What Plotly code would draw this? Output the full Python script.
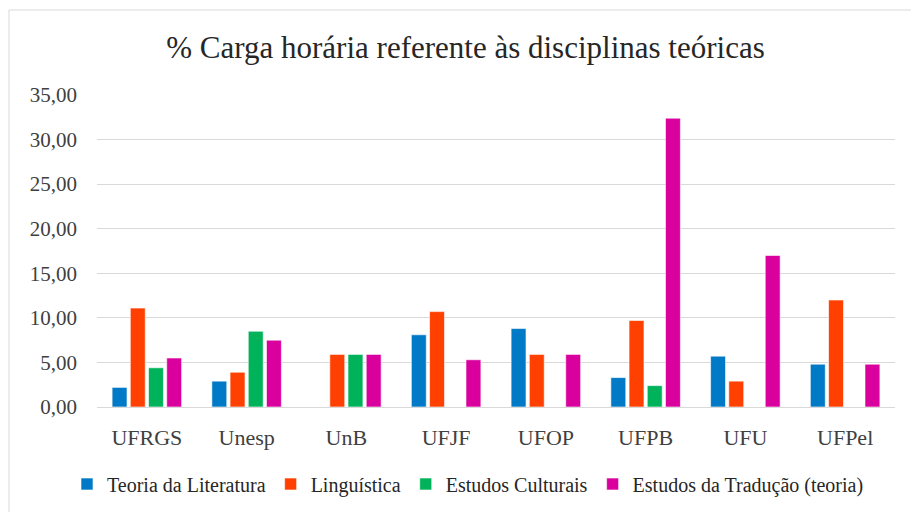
import plotly.graph_objects as go

categories = ["UFRGS", "Unesp", "UnB", "UFJF", "UFOP", "UFPB", "UFU", "UFPel"]
teoria_literatura = [2.2, 2.9, 0, 8.1, 8.8, 3.3, 5.7, 4.8]
linguistica = [11.1, 3.9, 5.9, 10.7, 5.9, 9.7, 2.9, 12.0]
estudos_culturais = [4.4, 8.5, 5.9, 0, 0, 2.4, 0, 0]
estudos_traducao = [5.5, 7.5, 5.9, 5.3, 5.9, 32.4, 17.0, 4.8]
series_names = ["Teoria da Literatura", "Linguística", "Estudos Culturais",
                "Estudos da Tradução (teoria)"]
y_ticks = [0, 5, 10, 15, 20, 25, 30, 35]

colors = ["#0079C6", "#FF4000", "#00B25A", "#D9009E"]
serif = "Liberation Serif, Times New Roman, serif"

fig = go.Figure()
for name, vals, col in zip(series_names,
                           [teoria_literatura, linguistica, estudos_culturais, estudos_traducao],
                           colors):
    fig.add_trace(go.Bar(x=categories, y=vals, name=name,
                         marker=dict(color=col, line=dict(color="white", width=0.6))))

L, R, T, B = 97, 16, 95, 105
W, H = 911, 512
pw, ph = W - L - R, H - T - B

fig.update_layout(
    width=W, height=H,
    margin=dict(l=L, r=R, t=T, b=B, pad=0, autoexpand=False),
    paper_bgcolor="white", plot_bgcolor="white",
    separators=",.",
    barmode="group", bargap=0.27, bargroupgap=0.18,
    title=dict(text="% Carga horária referente às disciplinas teóricas",
               x=465.5 / W, xanchor="center", y=1 - 47 / H, yanchor="middle",
               font=dict(family=serif, size=31, color="#262626")),
    font=dict(family=serif, color="#404040"),
    xaxis=dict(showgrid=False, showline=True, linecolor="#D9D9D9", linewidth=1,
               ticks="", tickfont=dict(size=22, color="#404040"),
               ticklabelstandoff=11),
    yaxis=dict(range=[0, 35], tickvals=y_ticks, tickformat=".2f",
               showgrid=True, gridcolor="#D9D9D9", gridwidth=1,
               zeroline=True, zerolinecolor="#D9D9D9", zerolinewidth=1,
               showline=False, ticks="", tickfont=dict(size=21, color="#404040"),
               ticklabelstandoff=19),
    legend=dict(orientation="h", x=(468 - L) / pw,
                xanchor="center", y=-(484 - (H - B)) / ph, yanchor="middle",
                font=dict(family=serif, size=20, color="#262626"),
                itemwidth=30, tracegroupgap=0, traceorder="normal",
                bgcolor="rgba(0,0,0,0)"),
    showlegend=True,
)

# chart frame (light border)
fig.add_shape(type="rect", xref="paper", yref="paper",
              x0=(9 - L) / pw, x1=(W + 5 - L) / pw,
              y0=-(H + 5 - (H - B)) / ph, y1=((H - B) - 10) / ph,
              line=dict(color="#D9D9D9", width=1), fillcolor="rgba(0,0,0,0)",
              layer="below")

fig.write_html("out.html", config={"displayModeBar": False},
               post_script="document.body.style.margin='0';")
